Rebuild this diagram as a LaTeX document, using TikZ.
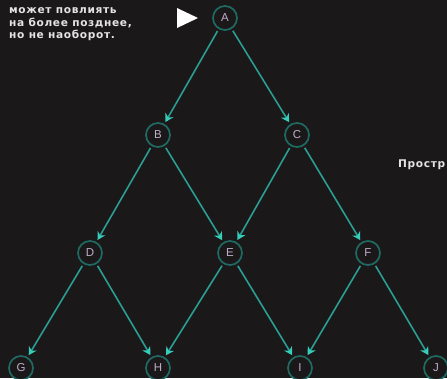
\documentclass[tikz,border=0pt]{standalone}
\usepackage{fontspec}
\setmainfont{Liberation Sans}
\newfontfamily\notefont[LetterSpace=6]{DejaVu Sans}
\usetikzlibrary{arrows.meta}
\definecolor{bg}{HTML}{1B1819}
\definecolor{ring}{HTML}{1F6A62}
\definecolor{edgecol}{HTML}{2A9E93}
\definecolor{tipcol}{HTML}{36CDBB}
\definecolor{letter}{HTML}{C2AECB}
\definecolor{note}{HTML}{E4E4E4}
\begin{document}
\begin{tikzpicture}[x=1pt,y=-1pt,
  ev/.style={circle,draw=ring,line width=1.7pt,fill=bg,minimum size=24pt,inner sep=0pt,
    outer sep=3pt,text=letter,font=\fontsize{11.5}{11.5}\selectfont},
  link/.style={draw=edgecol,line width=1.6pt,-{Stealth[length=8pt,width=9pt,color=tipcol]}},
  notetext/.style={text=note,font=\notefont\bfseries\fontsize{10.6}{12.5}\selectfont,inner sep=0pt,anchor=base west}]
\fill[bg] (0,0) rectangle (447,378);
\useasboundingbox (0,0) rectangle (447,378);
\node[ev] (A) at (225,18) {A};
\node[ev] (B) at (158,135) {B};
\node[ev] (C) at (297,135) {C};
\node[ev] (D) at (90,253) {D};
\node[ev] (E) at (230,253) {E};
\node[ev] (F) at (368,253) {F};
\node[ev] (G) at (21,368) {G};
\node[ev] (H) at (158,368) {H};
\node[ev] (I) at (300,368) {I};
\node[ev] (J) at (436,368) {J};
\draw[link] (A) -- (B);
\draw[link] (A) -- (C);
\draw[link] (B) -- (D);
\draw[link] (B) -- (E);
\draw[link] (C) -- (E);
\draw[link] (C) -- (F);
\draw[link] (D) -- (G);
\draw[link] (D) -- (H);
\draw[link] (E) -- (H);
\draw[link] (E) -- (I);
\draw[link] (F) -- (I);
\draw[link] (F) -- (J);
\node[notetext] (note1) at (9,13) {может повлиять};
\node[notetext] (note2) at (9,26) {на более позднее,};
\node[notetext] (note3) at (9,38.5) {но не наоборот.};
\fill[white] (177,8) -- (198,18) -- (177,28) -- cycle;
\node[notetext] (space) at (398,167) {Простр};
\end{tikzpicture}
\end{document}
